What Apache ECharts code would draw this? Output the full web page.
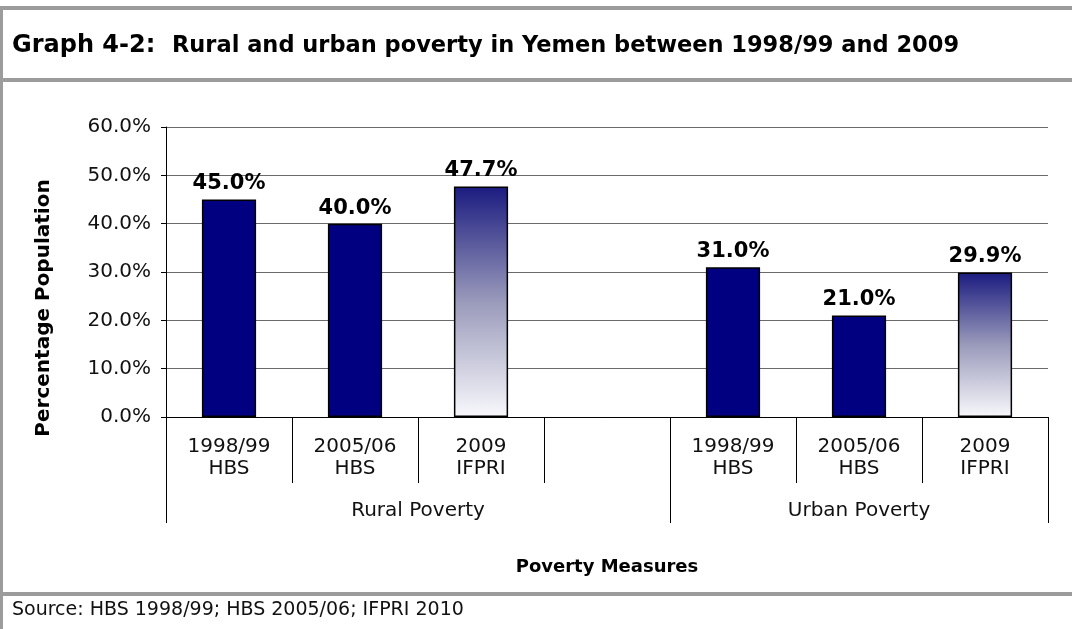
<!DOCTYPE html>
<html>
<head>
<meta charset="utf-8">
<script src="https://cdn.jsdelivr.net/npm/echarts@6/dist/echarts.min.js"></script>
<style>
  html, body { margin: 0; padding: 0; background: #ffffff; }
  #chart { width: 1072px; height: 629px; }
</style>
</head>
<body>
<div id="chart"></div>
<script>
// Poverty headcount shares (% of population) by survey
const categories = ['1998/99\nHBS', '2005/06\nHBS', '2009\nIFPRI', '', '1998/99\nHBS', '2005/06\nHBS', '2009\nIFPRI'];
const ruralPoverty = [45.0, 40.0, 47.7];
const urbanPoverty = [31.0, 21.0, 29.9];
const groupLabels = ['Rural Poverty', 'Urban Poverty'];
const yTicks = [0, 10, 20, 30, 40, 50, 60];
const sourceNote = 'Source: HBS 1998/99; HBS 2005/06; IFPRI 2010';

const FONT = '"DejaVu Sans", Verdana, sans-serif';
const NAVY = '#000080';
const BORDER = '#9c9c9c';

// IFPRI bars are shaded from navy at the top to near-white at the base
const fadeFill = {
  type: 'linear', x: 0, y: 0, x2: 0, y2: 1,
  colorStops: [
    { offset: 0, color: '#1b1b80' },
    { offset: 0.5, color: '#9a9abb' },
    { offset: 1, color: '#f8f8fc' }
  ]
};

function barItem(v, isIfpri) {
  return { value: v, itemStyle: { color: isIfpri ? fadeFill : NAVY } };
}
const barData = []
  .concat(ruralPoverty.map((v, i) => barItem(v, i === 2)))
  .concat(['-'])
  .concat(urbanPoverty.map((v, i) => barItem(v, i === 2)));

// Group axis: half-slot points (0, 0.5, ... 7) so group ticks and centred names land on the scale
const halfSlots = [];
for (let i = 0; i <= categories.length * 2; i++) halfSlots.push('');
halfSlots[4] = groupLabels[0];   // centre of the 4 rural slots
halfSlots[11] = groupLabels[1];  // centre of the 3 urban slots
const groupBounds = [0, 8, 14];

const chart = echarts.init(document.getElementById('chart'), null, { renderer: 'canvas' });
chart.setOption({
  backgroundColor: '#ffffff',
  animation: false,
  textStyle: { fontFamily: FONT },
  title: {
    left: 7, top: 29,
    text: '{a|Graph 4-2:  }{b|Rural and urban poverty in Yemen between 1998/99 and 2009}',
    textStyle: {
      rich: {
        a: { fontFamily: FONT, fontWeight: 'bold', fontSize: 24, color: '#000' },
        b: { fontFamily: FONT, fontWeight: 'bold', fontSize: 22.5, color: '#000' }
      }
    }
  },
  grid: { left: 166, right: 24, top: 127, bottom: 212, containLabel: false },
  xAxis: [
    {
      type: 'category',
      data: categories,
      boundaryGap: true,
      axisLine: { show: true, lineStyle: { color: '#000', width: 1 } },
      axisTick: { show: true, interval: 0, alignWithLabel: false, length: 66, lineStyle: { color: '#000' } },
      axisLabel: { interval: 0, margin: 19, fontSize: 20, lineHeight: 22, color: '#111', fontFamily: FONT }
    },
    {
      type: 'category',
      position: 'bottom',
      data: halfSlots,
      boundaryGap: false,
      axisLine: { show: false },
      axisTick: {
        show: true, length: 106, lineStyle: { color: '#000' },
        interval: (i) => groupBounds.indexOf(i) !== -1
      },
      axisLabel: {
        margin: 84, fontSize: 20, color: '#111', fontFamily: FONT,
        interval: (i, v) => v !== ''
      },
      name: 'Poverty Measures',
      nameLocation: 'middle',
      nameGap: 141,
      nameTextStyle: { fontFamily: FONT, fontWeight: 'bold', fontSize: 18, color: '#000' }
    }
  ],
  yAxis: {
    type: 'value',
    min: yTicks[0], max: yTicks[yTicks.length - 1], interval: 10,
    axisLine: { show: true, lineStyle: { color: '#000', width: 1 } },
    axisTick: { show: true, length: 5, lineStyle: { color: '#000' } },
    axisLabel: { margin: 15, fontSize: 20, color: '#111', fontFamily: FONT, formatter: (v) => v.toFixed(1) + '%' },
    splitLine: { show: true, lineStyle: { color: '#6a6a6a', width: 1 } },
    name: 'Percentage Population',
    nameLocation: 'middle',
    nameGap: 112,
    nameTextStyle: { fontFamily: FONT, fontWeight: 'bold', fontSize: 20, color: '#000', padding: [0, 72, 0, 0] }
  },
  series: [{
    type: 'bar',
    data: barData,
    barWidth: '43%',
    itemStyle: { borderColor: '#000', borderWidth: 1.5 },
    label: {
      show: true, position: 'top', distance: 5,
      fontFamily: FONT, fontWeight: 'bold', fontSize: 21, color: '#000',
      formatter: (p) => Number(p.value).toFixed(1) + '%'
    }
  }],
  graphic: [
    // frame: top rule, left rule, title separator, source separator
    { type: 'rect', shape: { x: 0, y: 6, width: 1072, height: 4 }, style: { fill: BORDER }, silent: true },
    { type: 'rect', shape: { x: 0, y: 6, width: 3, height: 623 }, style: { fill: BORDER }, silent: true },
    { type: 'rect', shape: { x: 0, y: 78, width: 1072, height: 4 }, style: { fill: BORDER }, silent: true },
    { type: 'rect', shape: { x: 0, y: 592, width: 1072, height: 4 }, style: { fill: BORDER }, silent: true },
    {
      type: 'text', left: 12, top: 601,
      style: { text: sourceNote, fontFamily: FONT, fontSize: 19, fill: '#111' }
    }
  ]
});
</script>
</body>
</html>
